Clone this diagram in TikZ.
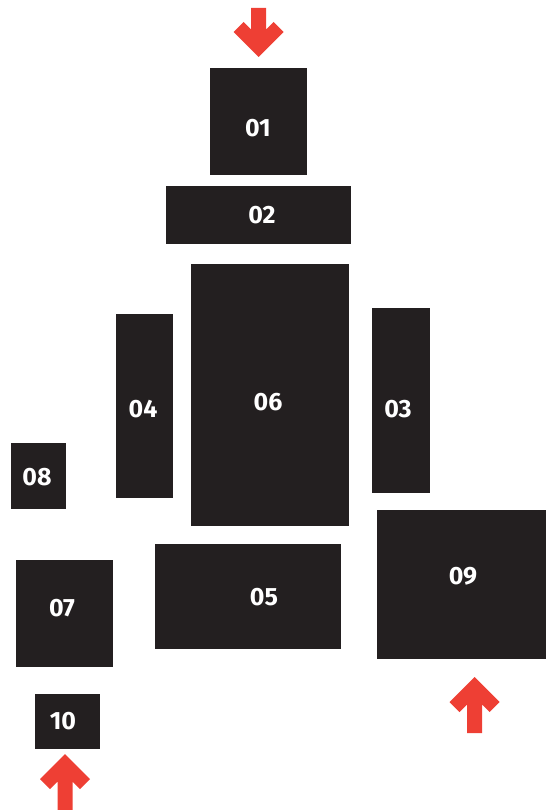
\documentclass[tikz,border=0pt]{standalone}
\usepackage{fontspec}
\setmainfont{Fira Sans}
\definecolor{boxdark}{HTML}{231F20}
\definecolor{arrowred}{HTML}{EE3F34}
\begin{document}
\begin{tikzpicture}[x=1pt,y=-1pt,
  box/.style={fill=boxdark,draw=none,inner sep=0pt,rectangle},
  lbl/.style={text=white,font=\bfseries\fontsize{25}{25}\selectfont,inner sep=0pt},
  uparr/.pic={\fill[arrowred] (0,0) -- (25,25) -- (15,35) -- (7.5,27.5) -- (7.5,#1) -- (-7.5,#1) -- (-7.5,27.5) -- (-15,35) -- (-25,25) -- cycle;}
]
\useasboundingbox (0,0) rectangle (547,810);
% boxes
\node[box,minimum width=97pt,minimum height=107pt] (b01) at (258.5,121.5) {};
\node[box,minimum width=185pt,minimum height=58pt] (b02) at (258.5,215) {};
\node[box,minimum width=158pt,minimum height=262pt] (b06) at (270,395) {};
\node[box,minimum width=57pt,minimum height=184pt] (b04) at (144.5,406) {};
\node[box,minimum width=58pt,minimum height=185pt] (b03) at (401,400.5) {};
\node[box,minimum width=55pt,minimum height=66pt] (b08) at (38.5,476) {};
\node[box,minimum width=186pt,minimum height=105pt] (b05) at (248,596.5) {};
\node[box,minimum width=169pt,minimum height=149pt] (b09) at (461.5,584.5) {};
\node[box,minimum width=97pt,minimum height=107pt] (b07) at (64.5,613.5) {};
\node[box,minimum width=65pt,minimum height=55pt] (b10) at (67.5,721.5) {};
% labels
\node[lbl] (l01) at (258,128) {01};
\node[lbl] (l02) at (262,215) {02};
\node[lbl] (l06) at (268,402) {06};
\node[lbl] (l04) at (143,409) {04};
\node[lbl] (l03) at (398,409) {03};
\node[lbl] (l08) at (37,477) {08};
\node[lbl] (l05) at (264,597) {05};
\node[lbl] (l09) at (463,576) {09};
\node[lbl] (l07) at (62,608) {07};
\node[lbl] (l10) at (63,721) {10};
% arrows
\pic[yscale=-1] at (258.5,57) {uparr=49};
\pic at (474.5,677) {uparr=56};
\pic at (65,754) {uparr=70};
\end{tikzpicture}
\end{document}
